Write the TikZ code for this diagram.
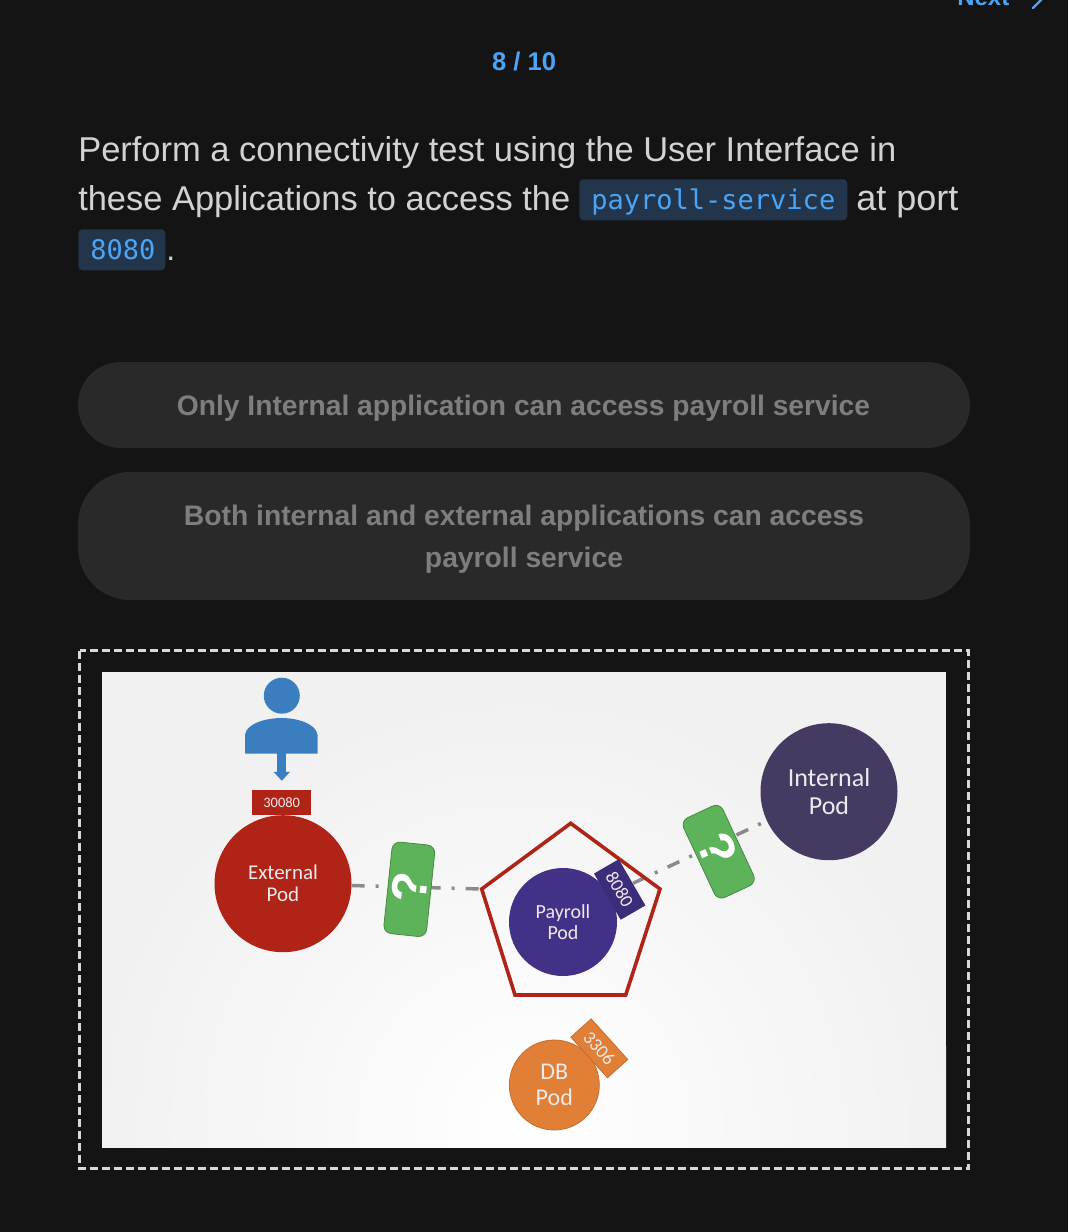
\documentclass[tikz,border=0pt]{standalone}
\usepackage{fontspec}
\usepackage{graphicx}
\setmainfont{Liberation Sans}
\newfontfamily\monof{DejaVu Sans Mono}
\newfontfamily\podf{Carlito}
\usetikzlibrary{arrows.meta,calc}
\newlength{\pxu}\setlength{\pxu}{0.75pt}
\newcommand{\fitw}[2]{\resizebox{#1\pxu}{!}{#2}}
\newcommand{\fsz}[2]{\fontsize{#1\pxu}{#2\pxu}\selectfont}
\definecolor{pagebg}{HTML}{141414}
\definecolor{bodytxt}{HTML}{D2D2D2}
\definecolor{linkblue}{HTML}{4AA5F7}
\definecolor{chipbg}{HTML}{22354A}
\definecolor{pillbg}{HTML}{292929}
\definecolor{pilltxt}{HTML}{7E7E7E}
\definecolor{framecol}{HTML}{D8D8D8}
\definecolor{panelout}{HTML}{F1F1F1}
\definecolor{redc}{HTML}{B02317}
\definecolor{purplec}{HTML}{433188}
\definecolor{indigoc}{HTML}{443A62}
\definecolor{orangec}{HTML}{E27F37}
\definecolor{greenc}{HTML}{5CB35A}
\definecolor{bluec}{HTML}{3B7EC0}
\definecolor{graydash}{HTML}{8A8A8A}
\tikzset{
  bodytext/.style={anchor=base west,inner sep=0pt,text=bodytxt},
  chip/.style={fill=chipbg,rounded corners=3pt,inner sep=0pt,anchor=north west},
  chiptext/.style={anchor=base west,inner sep=0pt,text=linkblue},
  pill/.style={fill=pillbg,inner sep=0pt,text=pilltxt,align=center,minimum width=669pt},
  pilltext/.style={anchor=base,inner sep=0pt,text=pilltxt},
  pod/.style={circle,inner sep=0pt,text=white!92!black,align=center,font=\podf},
  portbox/.style={inner sep=0pt,text=white!92!black,font=\podf},
  quest/.style={fill=greenc,draw=greenc!75!black,line width=0.56pt,rounded corners=6pt,inner sep=0pt,text=white,font=\bfseries},
  questmark/.style={text=white,font=\bfseries\fsz{50}{50},inner sep=0pt},
  linkline/.style={draw=graydash,line width=2.6pt,dash pattern=on 9.75pt off 8.25pt on 2.25pt off 8.25pt},
}
\begin{document}
\begin{tikzpicture}[x=0.75pt,y=-0.75pt]
\path[use as bounding box] (0,0) rectangle (1068,1232);
\clip (0,0) rectangle (1068,1232);
\fill[pagebg] (0,0) rectangle (1068,1232);

% header
\node[anchor=base west,inner sep=0pt,text=linkblue,font=\bfseries] (nexttxt) at (957,5.5) {\fitw{52}{Next}};
\coordinate (cha) at (1033,-16);\coordinate (chb) at (1044,-3);\coordinate (chc) at (1033,8);
\draw[linkblue,line width=1.8pt,line cap=round,line join=round] (cha) -- (chb) -- (chc);
\node[anchor=base,inner sep=0pt,text=linkblue,font=\bfseries] (counter) at (524,70) {\fitw{64}{8 / 10}};

% question
\node[bodytext] (q1) at (78,161) {\fitw{818}{Perform a connectivity test using the User Interface in}};
\node[bodytext] (q2) at (78,210) {\fitw{492}{these Applications to access the}};
\node[chip,minimum width=201pt,minimum height=30.75pt] (chipa) at (579,179) {};
\node[chiptext] (chipatxt) at (591,209) {\fitw{244}{\monof payroll-service}};
\node[bodytext] (q3) at (856,210) {\fitw{102}{at port}};
\node[chip,minimum width=65.25pt,minimum height=30.75pt] (chipb) at (78,229) {};
\node[chiptext] (chipbtxt) at (90,259) {\fitw{65}{\monof 8080}};
\node[bodytext] (q4) at (166,260) {\fsz{32}{40}.};

% options
\node[pill,minimum height=64.5pt,rounded corners=32pt] (opta) at (524,405) {};
\node[pilltext] (opta1) at (523.5,415) {\fitw{693}{\bfseries Only Internal application can access payroll service}};
\node[pill,minimum height=96pt,rounded corners=39pt] (optb) at (524,536) {};
\node[pilltext] (optb1) at (524,525) {\fitw{680}{\bfseries Both internal and external applications can access}};
\node[pilltext] (optb2) at (524,567) {\fitw{198}{\bfseries payroll service}};

% frame
\draw[framecol,line width=2.25pt,dash pattern=on 6pt off 3pt] (79.5,650.5) rectangle (968.5,1168.5);

% image panel
\begin{scope}
\clip (102,672) rectangle (946,1147);
\fill[panelout] (102,672) rectangle (946,1147);
\shade[inner color=white,outer color=panelout] (524,1125) circle (430);
\end{scope}

% pentagon vertices
\coordinate (pt) at (570.7,823.3);
\coordinate (pr) at (660,889);
\coordinate (pbr) at (625.7,995);
\coordinate (pbl) at (515,995);
\coordinate (pl) at (481.7,889);

% node anchors for connectors
\coordinate (extc) at (283,883.7);
\coordinate (intc) at (829,791.7);
\coordinate (p8080c) at (619.7,889.5);

\draw[linkline,dash phase=5.5pt] (extc) -- (pl);
\draw[linkline,dash phase=17.4pt] (p8080c) -- (intc);

% person
\fill[bluec] (245,753.5) -- (245,735) .. controls (246,724) and (265,718) .. (281.5,718) .. controls (298,718) and (316.5,724) .. (317.5,735) -- (317.5,753.5) -- cycle;
\node[circle,fill=bluec,minimum size=27pt,inner sep=0pt] (head) at (281.8,695.7) {};
\coordinate (personb) at (281.8,753);

% external pod
\node[pod,fill=redc,minimum size=102.75pt,font=\podf\fsz{21}{22}] (ext) at (283,883.7) {External\\Pod};
\node[portbox,fill=redc,minimum width=44.25pt,minimum height=19pt,font=\podf\fsz{14.5}{16}] (p30080) at (281.7,802.7) {30080};
\draw[-{Triangle[length=6.75pt,width=12pt]},bluec,line width=6.6pt,shorten >=6.75pt] (personb) -- (personb |- p30080.north);

% pentagon
\draw[redc,line width=2.7pt,line join=miter] (pt) -- (pr) -- (pbr) -- (pbl) -- (pl) -- cycle;

% payroll
\node[pod,fill=purplec,minimum size=81pt,font=\podf\fsz{20}{21}] (pay) at (563,922) {Payroll\\Pod};
\node[portbox,fill=purplec!90!black,minimum width=40pt,minimum height=21.4pt,rotate=-60,font=\podf\fsz{18.5}{18}] (p8080) at (p8080c) {8080};

% internal
\node[pod,fill=indigoc,minimum size=102.75pt,font=\podf\fsz{26}{28}] (int) at (intc) {Internal\\Pod};

% green boxes
\node[quest,rotate=-6,minimum width=32.25pt,minimum height=69pt] (qa) at (409.3,889.3) {};
\node[questmark,rotate=84] (qat) at (410,887) {?};
\node[quest,rotate=25,minimum width=32.5pt,minimum height=66pt] (qb) at (718.7,851.7) {};
\node[questmark,rotate=-66] (qbt) at (718,849) {?};

% DB
\node[pod,fill=orangec,draw=orangec!85!black,line width=0.56pt,minimum size=67.5pt,font=\podf\fsz{24}{26}] (db) at (554.3,1085) {DB\\Pod};
\node[portbox,fill=orangec,draw=orangec!85!black,line width=0.56pt,minimum width=41pt,minimum height=20.5pt,rotate=-48,font=\podf\fsz{18.5}{18}] (p3306) at (599.3,1048.3) {3306};
\end{tikzpicture}
\end{document}
